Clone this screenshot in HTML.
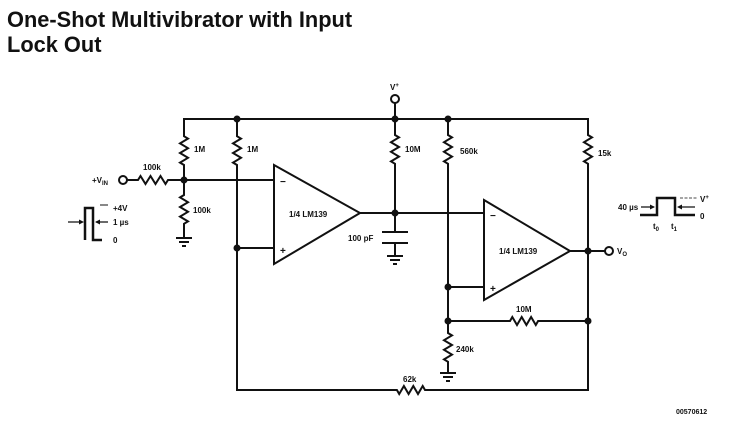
<!DOCTYPE html>
<html><head><meta charset="utf-8"><style>
body{margin:0;background:#fff;width:744px;height:422px;overflow:hidden}
svg{position:absolute;left:0;top:0}
text{font-family:"Liberation Sans",sans-serif;font-weight:bold;fill:#111}
.t{font-size:8px}
</style></head><body>
<svg width="744" height="422" viewBox="0 0 744 422">
<text x="7" y="27" style="font-size:21.8px">One-Shot Multivibrator with Input</text>
<text x="7" y="52" style="font-size:21.8px">Lock Out</text>
<g stroke="#111" stroke-width="2" fill="none">
<path d="M184,180 V165 l-4,-2.4 l8,-4.8 l-8,-4.8 l8,-4.8 l-8,-4.8 l8,-4.8 l-4,-2.4 V119 H588 V135 l4,2.4 l-8,4.8 l8,4.8 l-8,4.8 l8,4.8 l-8,4.8 l4,2.4 V390 H425 l-2.3,-4 l-4.7,8 l-4.7,-8 l-4.7,8 l-4.7,-8 l-4.7,8 l-2.3,-4 H237 V165 l-4,-2.4 l8,-4.8 l-8,-4.8 l8,-4.8 l-8,-4.8 l8,-4.8 l-4,-2.4 V119"/>
<path d="M395,103 V119 V135 l4,2.4 l-8,4.8 l8,4.8 l-8,4.8 l8,4.8 l-8,4.8 l4,2.4 V232"/>
<circle cx="395" cy="99" r="4"/>
<path d="M382,232 H408 M382,243 H408 M395,243 V256 M387,256 H403 M390,260 H400 M393,264 H397"/>
<circle cx="123" cy="180" r="4"/>
<path d="M127,180 H138 l2.5,-4 l5,8 l5,-8 l5,8 l5,-8 l5,8 l2.5,-4 H274"/>
<path d="M184,180 V195 l-4,2.4 l8,4.8 l-8,4.8 l8,4.8 l-8,4.8 l8,4.8 l-4,2.4 V238 M176,238 H192 M179,242 H189 M182,246 H186"/>
<path d="M237,248 H274"/>
<path d="M274,165 L360,213 L274,264 Z"/>
<path d="M360,213 H484"/>
<path d="M448,119 V135 l4,2.4 l-8,4.8 l8,4.8 l-8,4.8 l8,4.8 l-8,4.8 l4,2.4 V333 l4,2.4 l-8,4.8 l8,4.8 l-8,4.8 l8,4.8 l-8,4.8 l4,2.4 V373 M440,373 H456 M443,377 H453 M446,381 H450"/>
<path d="M448,287 H484"/>
<path d="M448,321 H510 l2.3,-4 l4.7,8 l4.7,-8 l4.7,8 l4.7,-8 l4.7,8 l2.3,-4 H588"/>
<path d="M484,200 L570,251 L484,300 Z"/>
<path d="M570,251 H605"/>
<circle cx="609" cy="251" r="4"/>
<path d="M85,240 V208 H93 V240 H102" stroke-width="2.5"/>
<path d="M68,222 H82 M108,222 H96" stroke-width="1.2"/>
<path d="M100,205 H108" stroke-width="1"/>
<path d="M640,215 H657 V198 H675 V215 H695" stroke-width="2.5"/>
<path d="M641,207 H654 M695,207 H679" stroke-width="1.2"/>
<path d="M680,198 H697" stroke-width="0.8" stroke-dasharray="3,1.5"/>
</g>
<g fill="#111">
<polygon points="84,222 79,219.5 79,224.5"/><polygon points="95,222 100,219.5 100,224.5"/>
<polygon points="655,207 650,204.5 650,209.5"/><polygon points="677,207 682,204.5 682,209.5"/>
<circle cx="184" cy="180" r="3.5"/><circle cx="237" cy="119" r="3.5"/><circle cx="237" cy="248" r="3.5"/>
<circle cx="395" cy="119" r="3.5"/><circle cx="395" cy="213" r="3.5"/><circle cx="448" cy="119" r="3.5"/>
<circle cx="448" cy="287" r="3.5"/><circle cx="448" cy="321" r="3.5"/><circle cx="588" cy="251" r="3.5"/><circle cx="588" cy="321" r="3.5"/>
</g>
<g class="t">
<text x="390" y="90">V<tspan font-size="6" dy="-3">+</tspan></text>
<text x="194" y="152">1M</text><text x="247" y="152">1M</text>
<text x="405" y="152">10M</text><text x="460" y="154">560k</text><text x="598" y="156">15k</text>
<text x="143" y="170">100k</text><text x="193" y="213">100k</text>
<text x="92" y="183">+V<tspan font-size="6" dy="2">IN</tspan></text>
<text x="113" y="211">+4V</text><text x="113" y="225">1 µs</text><text x="113" y="243">0</text>
<text x="289" y="217">1/4 LM139</text><text x="499" y="254">1/4 LM139</text>
<text x="280" y="185" font-size="10">−</text><text x="280" y="254" font-size="10">+</text>
<text x="490" y="219" font-size="10">−</text><text x="490" y="292" font-size="10">+</text>
<text x="348" y="241">100 pF</text>
<text x="516" y="312">10M</text><text x="456" y="352">240k</text><text x="403" y="382">62k</text>
<text x="617" y="254">V<tspan font-size="6" dy="2">O</tspan></text>
<text x="618" y="210">40 µs</text><text x="700" y="202">V<tspan font-size="6" dy="-3">+</tspan></text>
<text x="700" y="219">0</text>
<text x="653" y="229">t<tspan font-size="6" dy="2">0</tspan></text><text x="671" y="229">t<tspan font-size="6" dy="2">1</tspan></text>
<text x="676" y="414" font-weight="normal" font-size="7">00570612</text>
</g>
</svg>
</body></html>
